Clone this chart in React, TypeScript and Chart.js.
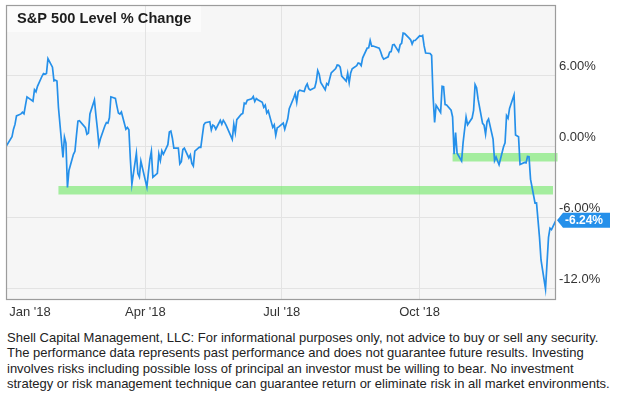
import React, { useEffect, useRef } from 'react';
import { Chart, registerables } from 'chart.js';

Chart.register(...registerables);

const chartTitle = 'S&P 500 Level % Change';
const baseDate = '2017-12-29';
const basePct = 0;

const tradingDays = [
  '2018-01-02','2018-01-03','2018-01-04','2018-01-05','2018-01-08','2018-01-09','2018-01-10','2018-01-11','2018-01-12','2018-01-16','2018-01-17','2018-01-18','2018-01-19','2018-01-22','2018-01-23','2018-01-24','2018-01-25','2018-01-26','2018-01-29','2018-01-30','2018-01-31',
  '2018-02-01','2018-02-02','2018-02-05','2018-02-06','2018-02-07','2018-02-08','2018-02-09','2018-02-12','2018-02-13','2018-02-14','2018-02-15','2018-02-16','2018-02-20','2018-02-21','2018-02-22','2018-02-23','2018-02-26','2018-02-27','2018-02-28',
  '2018-03-01','2018-03-02','2018-03-05','2018-03-06','2018-03-07','2018-03-08','2018-03-09','2018-03-12','2018-03-13','2018-03-14','2018-03-15','2018-03-16','2018-03-19','2018-03-20','2018-03-21','2018-03-22','2018-03-23','2018-03-26','2018-03-27','2018-03-28','2018-03-29',
  '2018-04-02','2018-04-03','2018-04-04','2018-04-05','2018-04-06','2018-04-09','2018-04-10','2018-04-11','2018-04-12','2018-04-13','2018-04-16','2018-04-17','2018-04-18','2018-04-19','2018-04-20','2018-04-23','2018-04-24','2018-04-25','2018-04-26','2018-04-27','2018-04-30',
  '2018-05-01','2018-05-02','2018-05-03','2018-05-04','2018-05-07','2018-05-08','2018-05-09','2018-05-10','2018-05-11','2018-05-14','2018-05-15','2018-05-16','2018-05-17','2018-05-18','2018-05-21','2018-05-22','2018-05-23','2018-05-24','2018-05-25','2018-05-29','2018-05-30','2018-05-31',
  '2018-06-01','2018-06-04','2018-06-05','2018-06-06','2018-06-07','2018-06-08','2018-06-11','2018-06-12','2018-06-13','2018-06-14','2018-06-15','2018-06-18','2018-06-19','2018-06-20','2018-06-21','2018-06-22','2018-06-25','2018-06-26','2018-06-27','2018-06-28','2018-06-29',
  '2018-07-02','2018-07-03','2018-07-05','2018-07-06','2018-07-09','2018-07-10','2018-07-11','2018-07-12','2018-07-13','2018-07-16','2018-07-17','2018-07-18','2018-07-19','2018-07-20','2018-07-23','2018-07-24','2018-07-25','2018-07-26','2018-07-27','2018-07-30','2018-07-31',
  '2018-08-01','2018-08-02','2018-08-03','2018-08-06','2018-08-07','2018-08-08','2018-08-09','2018-08-10','2018-08-13','2018-08-14','2018-08-15','2018-08-16','2018-08-17','2018-08-20','2018-08-21','2018-08-22','2018-08-23','2018-08-24','2018-08-27','2018-08-28','2018-08-29','2018-08-30','2018-08-31',
  '2018-09-04','2018-09-05','2018-09-06','2018-09-07','2018-09-10','2018-09-11','2018-09-12','2018-09-13','2018-09-14','2018-09-17','2018-09-18','2018-09-19','2018-09-20','2018-09-21','2018-09-24','2018-09-25','2018-09-26','2018-09-27','2018-09-28',
  '2018-10-01','2018-10-02','2018-10-03','2018-10-04','2018-10-05','2018-10-08','2018-10-09','2018-10-10','2018-10-11','2018-10-12','2018-10-15','2018-10-16','2018-10-17','2018-10-18','2018-10-19','2018-10-22','2018-10-23','2018-10-24','2018-10-25','2018-10-26','2018-10-29','2018-10-30','2018-10-31',
  '2018-11-01','2018-11-02','2018-11-05','2018-11-06','2018-11-07','2018-11-08','2018-11-09','2018-11-12','2018-11-13','2018-11-14','2018-11-15','2018-11-16','2018-11-19','2018-11-20','2018-11-21','2018-11-23','2018-11-26','2018-11-27','2018-11-28','2018-11-29','2018-11-30',
  '2018-12-03','2018-12-04','2018-12-06','2018-12-07','2018-12-10','2018-12-11','2018-12-12','2018-12-13','2018-12-14','2018-12-17','2018-12-18','2018-12-19','2018-12-20','2018-12-21','2018-12-24','2018-12-26','2018-12-27','2018-12-28','2018-12-31',
];

const pctChange = [
  0.83, 1.48, 1.88, 2.60, 2.77, 2.91, 2.79, 3.51, 4.21, 3.85, 4.82, 4.65, 5.11, 5.96, 6.19, 6.13, 6.20, 7.45, 6.73, 5.57, 5.62,
  5.55, 3.31, -0.92, 0.81, 0.30, -3.46, -2.02, -0.66, -0.40, 0.94, 2.15, 2.19, 1.60, 1.04, 1.14, 2.76, 3.96, 2.64, 1.50,
  0.15, 0.66, 1.77, 2.04, 1.99, 2.44, 4.22, 4.09, 3.43, 2.84, 2.76, 2.93, 1.47, 1.62, 1.43, -1.12, -3.19, -0.56, -2.28, -2.57, -1.22,
  -3.43, -2.21, -1.08, -0.40, -2.59, -2.26, -0.63, -1.18, -0.36, -0.65, 0.16, 1.23, 1.31, 0.73, -0.13, -0.12, -1.46, -1.28, -0.25, -0.14, -0.96,
  -0.70, -1.42, -1.64, -0.38, -0.04, -0.06, 0.90, 1.85, 2.02, 2.11, 1.42, 1.83, 1.74, 1.47, 2.22, 1.90, 2.23, 2.03, 1.78, 0.61, 1.89, 1.18,
  2.28, 2.74, 2.81, 3.69, 3.62, 3.94, 4.05, 4.24, 3.82, 4.07, 3.97, 3.75, 3.33, 3.51, 2.85, 3.04, 1.63, 1.85, 0.97, 1.60, 1.67,
  1.99, 1.48, 2.36, 3.22, 4.14, 4.50, 3.76, 4.66, 4.78, 4.67, 5.08, 5.31, 4.90, 4.80, 4.99, 5.49, 6.45, 6.13, 5.43, 4.82, 5.34,
  5.23, 5.75, 6.24, 6.61, 6.91, 6.89, 6.73, 5.97, 5.55, 6.22, 5.41, 6.25, 6.60, 6.86, 7.08, 7.04, 6.86, 7.52, 8.35, 8.37, 8.99, 8.51, 8.52,
  8.34, 8.04, 7.65, 7.41, 7.61, 8.01, 8.05, 8.62, 8.65, 8.05, 8.63, 8.76, 9.62, 9.58, 9.19, 9.05, 8.69, 8.99, 8.99,
  9.39, 9.34, 9.42, 8.53, 7.93, 7.89, 7.73, 4.19, 2.05, 3.50, 2.89, 5.10, 5.07, 3.56, 3.52, 3.08, 2.51, -0.65, 1.20, -0.56, -1.21, 0.34, 1.43,
  2.50, 1.85, 2.42, 3.06, 5.25, 4.98, 4.02, 1.97, 1.82, 1.05, 2.12, 2.34, 0.64, -1.19, -0.89, -1.54, -0.01, 0.32, 2.62, 2.40, 3.24,
  4.37, 0.99, 0.84, -1.52, -1.34, -1.38, -0.84, -0.86, -2.76, -4.78, -4.77, -6.23, -7.71, -9.61, -12.06, -7.70, -6.91, -7.03, -6.24,
];

// support bands (horizontal highlight lines)
const supportLevels = [-3.69, -0.91];
const supportStarts = ['2018-02-02', '2018-10-23'];
const supportEnds = ['2018-12-29', '2019-01-01'];

const xTickDates = ['2018-01-14', '2018-04-01', '2018-07-01', '2018-10-01'];
const xTickLabels = ["Jan '18", "Apr '18", "Jul '18", "Oct '18"];
const yTickValues = [-12, -6, 0, 6];
const yTickLabels = ['-12.0%', '-6.00%', '0.00%', '6.00%'];
const xEndDate = '2018-12-31';

const footerLines = [
  'Shell Capital Management, LLC: For informational purposes only, not advice to buy or sell any security.',
  'The performance data represents past performance and does not guarantee future results. Investing',
  'involves risks including possible loss of principal an investor must be willing to bear. No investment',
  'strategy or risk management technique can guarantee return or eliminate risk in all market environments.',
];

const FONT = '"Liberation Sans", Arial, Helvetica, sans-serif';
const LINE = '#2590ea';
const BAND = 'rgba(120, 232, 110, 0.65)';
const GRID = '#e3e3e3';
const PLOT_BG = '#f6f6f6';

function dayOf(iso: string): number {
  const [y, m, d] = iso.split('-').map(Number);
  const [by, bm, bd] = baseDate.split('-').map(Number);
  return (Date.UTC(y, m - 1, d) - Date.UTC(by, bm - 1, bd)) / 86400000;
}

const decorPlugin = {
  id: 'decor',
  beforeDraw(chart: any) {
    const { ctx, chartArea: a } = chart;
    ctx.save();
    ctx.fillStyle = PLOT_BG;
    ctx.fillRect(a.left, a.top, a.right - a.left, a.bottom - a.top);
    ctx.fillStyle = 'rgba(255,255,255,0.6)';
    ctx.fillRect(a.left, a.top, 195, 27);
    ctx.restore();
  },
  afterDraw(chart: any) {
    const { ctx, chartArea: a } = chart;
    ctx.save();
    // border
    ctx.strokeStyle = '#9c9c9c';
    ctx.lineWidth = 1.2;
    ctx.strokeRect(a.left + 0.5, a.top + 0.5, a.right - a.left - 1, a.bottom - a.top - 1);
    // title
    ctx.fillStyle = '#1e1e1e';
    ctx.font = `bold 14.6px ${FONT}`;
    ctx.textAlign = 'left';
    ctx.textBaseline = 'middle';
    ctx.fillText(chartTitle, a.left + 11, a.top + 13.5);
    // last value tag
    const meta = chart.getDatasetMeta(0);
    const el = meta.data[meta.data.length - 1];
    if (el) {
      const y = el.y;
      const x = a.right + 1;
      ctx.fillStyle = LINE;
      ctx.beginPath();
      ctx.moveTo(x, y);
      ctx.lineTo(x + 6, y - 7.5);
      ctx.lineTo(x + 53, y - 7.5);
      ctx.lineTo(x + 53, y + 7.5);
      ctx.lineTo(x + 6, y + 7.5);
      ctx.closePath();
      ctx.fill();
      ctx.fillStyle = '#ffffff';
      ctx.font = `bold 12px ${FONT}`;
      ctx.fillText(pctChange[pctChange.length - 1].toFixed(2) + '%', x + 8, y + 0.5);
    }
    ctx.restore();
  },
};

export default function App() {
  const ref = useRef<HTMLCanvasElement | null>(null);

  useEffect(() => {
    if (!ref.current) return;
    Chart.defaults.font.family = FONT;
    const points = [{ x: dayOf(baseDate), y: basePct }].concat(
      tradingDays.map((d, i) => ({ x: dayOf(d), y: pctChange[i] }))
    );
    const bands = supportLevels.map((lvl, i) => ({
      data: [
        { x: dayOf(supportStarts[i]), y: lvl },
        { x: dayOf(supportEnds[i]), y: lvl },
      ],
      borderColor: BAND,
      borderWidth: 8.5,
      borderCapStyle: 'butt' as const,
      pointRadius: 0,
      fill: false,
      clip: false as any,
    }));
    const chart = new Chart(ref.current, {
      type: 'line',
      data: {
        datasets: [
          {
            data: points,
            borderColor: LINE,
            borderWidth: 1.7,
            pointRadius: 0,
            tension: 0,
            fill: false,
          },
          ...bands,
        ] as any,
      },
      options: {
        animation: false,
        responsive: false,
        maintainAspectRatio: false,
        layout: { padding: { left: 6, top: 5, right: 0, bottom: 0 } },
        plugins: {
          legend: { display: false },
          tooltip: { enabled: false },
          title: { display: false },
        },
        scales: {
          x: {
            type: 'linear',
            min: dayOf(baseDate),
            max: dayOf(xEndDate),
            border: { display: false },
            grid: {
              color: (c: any) => (c.index === 0 ? 'rgba(0,0,0,0)' : GRID),
              drawTicks: false,
            },
            ticks: {
              color: '#333',
              font: { size: 13 },
              padding: 5,
              maxRotation: 0,
              autoSkip: false,
              callback: (_v: any, i: number) => xTickLabels[i] ?? '',
            },
            afterBuildTicks: (s: any) => {
              s.ticks = xTickDates.map((d) => ({ value: dayOf(d) }));
            },
            afterFit: (s: any) => {
              s.height = 22;
              s.paddingLeft = 0;
              s.paddingRight = 0;
            },
          },
          y: {
            type: 'linear',
            position: 'right',
            min: -13,
            max: 12,
            border: { display: false },
            grid: { color: GRID, drawTicks: false },
            ticks: {
              color: '#333',
              font: { size: 13 },
              padding: 3,
              labelOffset: -9,
              callback: (_v: any, i: number) => yTickLabels[i] ?? '',
            },
            afterBuildTicks: (s: any) => {
              s.ticks = yTickValues.map((v) => ({ value: v }));
            },
            afterFit: (s: any) => {
              s.width = 63;
              s.paddingTop = 0;
              s.paddingBottom = 0;
            },
          },
        },
      } as any,
      plugins: [decorPlugin],
    });
    return () => chart.destroy();
  }, []);

  return (
    <div style={{ position: 'absolute', left: 0, top: 0, width: 619, height: 393, background: '#fff', overflow: 'hidden' }}>
      <canvas ref={ref} width={619} height={322} style={{ display: 'block', width: 619, height: 322 }} />
      <div
        style={{
          position: 'absolute',
          left: 7,
          top: 330,
          fontFamily: FONT,
          fontSize: 13,
          lineHeight: '15.3px',
          color: '#222',
          whiteSpace: 'nowrap',
        }}
      >
        {footerLines.map((l, i) => (
          <div key={i}>{l}</div>
        ))}
      </div>
    </div>
  );
}
